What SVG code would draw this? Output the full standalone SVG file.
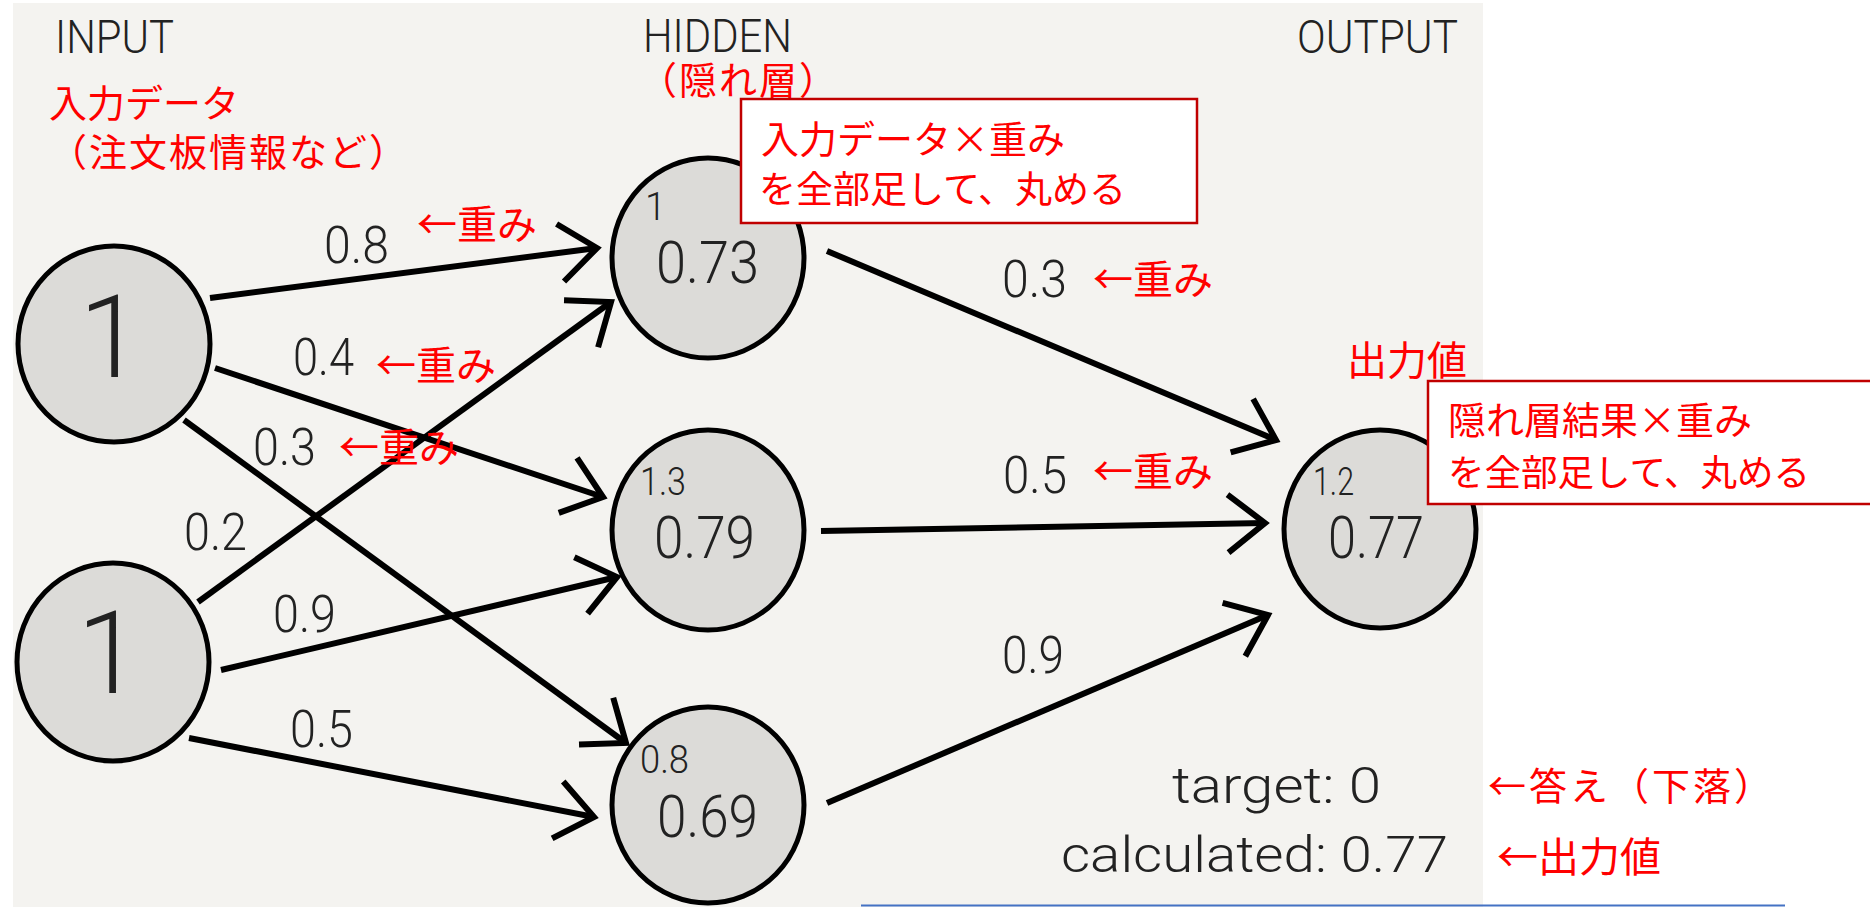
<svg xmlns="http://www.w3.org/2000/svg" width="1870" height="907" viewBox="0 0 1870 907">
<defs>
<style>
.bg{fill:#f4f3f0}
.node{fill:#dcdbd8;stroke:#000;stroke-width:5}
.edge{stroke:#000;stroke-width:6;fill:none}
.lbl{font-family:Roboto,"Liberation Sans",sans-serif;font-weight:300;fill:#222}
.red{font-family:"Noto Sans CJK JP",sans-serif;fill:#ff0000}
.box{fill:#fff;stroke:#c00000;stroke-width:2.5}
</style>
<marker id="arr" markerUnits="userSpaceOnUse" markerWidth="60" markerHeight="80" refX="0" refY="0" orient="auto" overflow="visible" viewBox="-50 -40 60 80">
<path d="M-37,-29 L0,0 L-37,29" fill="none" stroke="#000" stroke-width="6" stroke-linejoin="miter"/>
</marker>
</defs>
<rect class="bg" x="13" y="3" width="1470" height="904"/>
<line x1="861" y1="905.5" x2="1785" y2="905.5" stroke="#4472c4" stroke-width="2"/>

<text class="lbl" x="55" y="53" font-size="46" textLength="119" lengthAdjust="spacingAndGlyphs">INPUT</text>
<text class="lbl" x="643" y="52" font-size="46" textLength="149" lengthAdjust="spacingAndGlyphs">HIDDEN</text>
<text class="lbl" x="1297" y="53" font-size="46" textLength="161" lengthAdjust="spacingAndGlyphs">OUTPUT</text>

<g id="connectors">
<line class="edge" x1="210" y1="298" x2="597" y2="248" marker-end="url(#arr)"/>
<line class="edge" x1="215" y1="368" x2="603" y2="497" marker-end="url(#arr)"/>
<line class="edge" x1="184" y1="420" x2="626" y2="743" marker-end="url(#arr)"/>
<line class="edge" x1="198" y1="602" x2="611" y2="302" marker-end="url(#arr)"/>
<line class="edge" x1="221" y1="670" x2="617" y2="577" marker-end="url(#arr)"/>
<line class="edge" x1="189" y1="738" x2="594" y2="817" marker-end="url(#arr)"/>
<line class="edge" x1="827" y1="251" x2="1276" y2="440" marker-end="url(#arr)"/>
<line class="edge" x1="821" y1="531" x2="1265" y2="523" marker-end="url(#arr)"/>
<line class="edge" x1="827" y1="803" x2="1268" y2="615" marker-end="url(#arr)"/>
</g>

<g id="in1"><ellipse class="node" cx="114" cy="344" rx="96" ry="98"/><text class="lbl" x="111" y="377" font-size="115" text-anchor="middle">1</text></g>
<g id="in2"><ellipse class="node" cx="113" cy="662" rx="96" ry="99"/><text class="lbl" x="109" y="693" font-size="115" text-anchor="middle">1</text></g>
<g id="h1"><ellipse class="node" cx="708" cy="258" rx="96" ry="100"/>
<text class="lbl" x="645" y="220" font-size="38">1</text>
<text class="lbl" x="656" y="283" font-size="60" textLength="103" lengthAdjust="spacingAndGlyphs">0.73</text></g>
<g id="h2"><ellipse class="node" cx="708" cy="530" rx="96" ry="100"/>
<text class="lbl" x="640" y="495" font-size="38" textLength="46" lengthAdjust="spacingAndGlyphs">1.3</text>
<text class="lbl" x="654" y="558" font-size="60" textLength="101" lengthAdjust="spacingAndGlyphs">0.79</text></g>
<g id="h3"><ellipse class="node" cx="708" cy="805" rx="96" ry="98"/>
<text class="lbl" x="640" y="773" font-size="38" textLength="49" lengthAdjust="spacingAndGlyphs">0.8</text>
<text class="lbl" x="657" y="837" font-size="60" textLength="101" lengthAdjust="spacingAndGlyphs">0.69</text></g>
<g id="out"><ellipse class="node" cx="1380" cy="529" rx="96" ry="99"/>
<text class="lbl" x="1313" y="495" font-size="38" textLength="41" lengthAdjust="spacingAndGlyphs">1.2</text>
<text class="lbl" x="1328" y="558" font-size="60" textLength="96" lengthAdjust="spacingAndGlyphs">0.77</text></g>

<g id="weights">
<text class="lbl" x="324" y="263" font-size="52" textLength="65" lengthAdjust="spacingAndGlyphs">0.8</text>
<text class="lbl" x="293" y="375" font-size="52" textLength="61" lengthAdjust="spacingAndGlyphs">0.4</text>
<text class="lbl" x="253" y="465" font-size="52" textLength="63" lengthAdjust="spacingAndGlyphs">0.3</text>
<text class="lbl" x="184" y="550" font-size="52" textLength="63" lengthAdjust="spacingAndGlyphs">0.2</text>
<text class="lbl" x="273" y="632" font-size="52" textLength="63" lengthAdjust="spacingAndGlyphs">0.9</text>
<text class="lbl" x="290" y="747" font-size="52" textLength="63" lengthAdjust="spacingAndGlyphs">0.5</text>
<text class="lbl" x="1002" y="297" font-size="52" textLength="65" lengthAdjust="spacingAndGlyphs">0.3</text>
<text class="lbl" x="1003" y="493" font-size="52" textLength="64" lengthAdjust="spacingAndGlyphs">0.5</text>
<text class="lbl" x="1002" y="673" font-size="52" textLength="62" lengthAdjust="spacingAndGlyphs">0.9</text>
</g>

<g id="annotations">
<text class="red" x="49" y="117" font-size="38">入力データ</text>
<text class="red" x="49" y="166" font-size="38" letter-spacing="2">（注文板情報など）</text>
<text class="red" x="639" y="94" font-size="38" letter-spacing="2">（隠れ層）</text>
<text class="red" x="417" y="239" font-size="40">←重み</text>
<text class="red" x="376" y="380" font-size="40">←重み</text>
<text class="red" x="339" y="462" font-size="40">←重み</text>
<text class="red" x="1093" y="294" font-size="40">←重み</text>
<text class="red" x="1093" y="486" font-size="40">←重み</text>
<text class="red" x="1347" y="375" font-size="40">出力値</text>
<text class="red" x="1488" y="800" font-size="38" letter-spacing="3">←答え（下落）</text>
<text class="red" x="1497" y="872" font-size="41">←出力値</text>
</g>

<g id="box1"><rect class="box" x="741" y="99" width="456" height="124"/>
<text class="red" x="761" y="153" font-size="38">入力データ×重み</text>
<text class="red" x="759" y="203" font-size="37">を全部足して、丸める</text></g>
<g id="box2"><rect class="box" x="1428" y="381" width="450" height="123"/>
<text class="red" x="1448" y="434" font-size="38">隠れ層結果×重み</text>
<text class="red" x="1448" y="486" font-size="36.5">を全部足して、丸める</text></g>

<g id="result">
<text class="lbl" x="1172" y="803" font-size="50" textLength="209" lengthAdjust="spacingAndGlyphs">target: 0</text>
<text class="lbl" x="1061" y="872" font-size="50" textLength="387" lengthAdjust="spacingAndGlyphs">calculated: 0.77</text>
</g>
</svg>
